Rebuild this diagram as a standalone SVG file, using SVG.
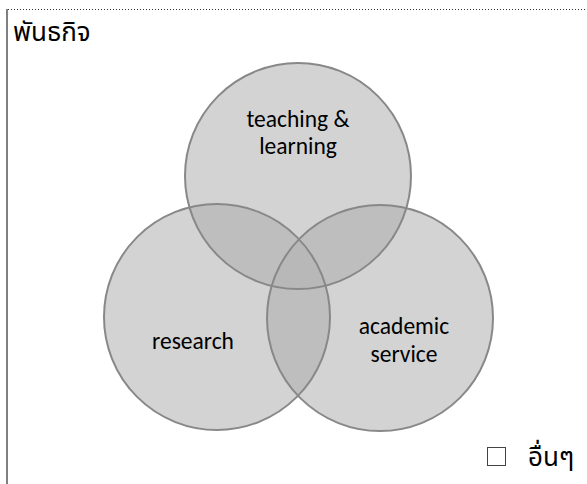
<svg xmlns="http://www.w3.org/2000/svg" width="587" height="484" viewBox="0 0 587 484">
<style>
.fill{fill:#d3d3d3}
.pair{fill:#bebebe}
.tri{fill:#b8b8b8}
.ring{fill:none;stroke:#888888;stroke-width:2}
.lbl{font-family:"Carlito","Lato","Open Sans",sans-serif;font-size:23.5px;fill:#000;text-anchor:middle}
.th{font-family:"Noto Sans Thai","Tahoma","DejaVu Sans",sans-serif;font-size:26px;fill:#000}
</style>
<defs>
<circle id="cT" cx="298" cy="176" r="113"/>
<circle id="cL" cx="217" cy="317" r="113"/>
<circle id="cR" cx="380" cy="318" r="113"/>
<clipPath id="clipT"><use href="#cT"/></clipPath>
<clipPath id="clipL"><use href="#cL"/></clipPath>
<clipPath id="clipR"><use href="#cR"/></clipPath>
<clipPath id="clipTL" clip-path="url(#clipL)"><use href="#cT"/></clipPath>
</defs>
<rect width="587" height="484" fill="#ffffff"/>
<line x1="7" y1="9" x2="7" y2="484" stroke="#808080" stroke-width="2"/>
<line x1="8" y1="9.5" x2="587" y2="9.5" stroke="#333" stroke-width="1" stroke-dasharray="1 2"/>
<text class="th" x="13" y="41">พันธกิจ</text>
<g id="venn-fills">
<use href="#cT" class="fill"/>
<use href="#cL" class="fill"/>
<use href="#cR" class="fill"/>
<use href="#cL" class="pair" clip-path="url(#clipT)"/>
<use href="#cR" class="pair" clip-path="url(#clipT)"/>
<use href="#cR" class="pair" clip-path="url(#clipL)"/>
<use href="#cR" class="tri" clip-path="url(#clipTL)"/>
</g>
<g id="teaching">
<use href="#cT" class="ring"/>
<text class="lbl" x="298" y="127">teaching &amp;</text>
<text class="lbl" x="298" y="154">learning</text>
</g>
<g id="research">
<use href="#cL" class="ring"/>
<text class="lbl" x="193" y="349">research</text>
</g>
<g id="service">
<use href="#cR" class="ring"/>
<text class="lbl" x="404" y="334">academic</text>
<text class="lbl" x="404" y="362">service</text>
</g>
<g id="connectors"/>
<g id="other">
<rect x="487.5" y="447.5" width="18" height="18" fill="none" stroke="#444" stroke-width="1"/>
<text class="th" x="528" y="466">อื่นๆ</text>
</g>
</svg>
